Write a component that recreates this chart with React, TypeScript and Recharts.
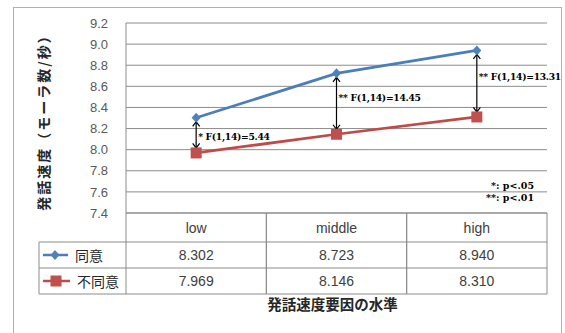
import { LineChart, Line, XAxis, YAxis, CartesianGrid, ReferenceLine } from 'recharts'

const CATEGORIES = ['low', 'middle', 'high']
const AGREE = [8.302, 8.723, 8.94]
const DISAGREE = [7.969, 8.146, 8.31]
const SERIES_NAMES = ['同意', '不同意']
const Y_TICKS = [7.4, 7.6, 7.8, 8.0, 8.2, 8.4, 8.6, 8.8, 9.0, 9.2]
const F_LABELS = ['* F(1,14)=5.44', '** F(1,14)=14.45', '** F(1,14)=13.31']
const NOTES = ['*: p<.05', '**: p<.01']
const Y_TITLE = '発話速度（モーラ数/秒）'
const X_TITLE = '発話速度要因の水準'

const BLUE = '#4A7EBB'
const RED = '#BE4B48'
const GRID = '#8c8c8c'
const SANS = '"Liberation Sans", Arial, sans-serif'
const JP = '"Noto Sans CJK JP", sans-serif'
const SERIF = '"DejaVu Serif", serif'

// nudges for the F-test labels next to each arrow
const LABEL_SHIFT = [2, -6, -7]

const data = CATEGORIES.map((cat, i) => ({ cat, agree: AGREE[i], disagree: DISAGREE[i] }))

const diamond = (p: any) => (
  <path
    key={`d${p.index}`}
    d={`M${p.cx},${p.cy - 5} L${p.cx + 4.5},${p.cy} L${p.cx},${p.cy + 5} L${p.cx - 4.5},${p.cy} Z`}
    fill="#4F81BD"
  />
)

const square = (p: any) => (
  <rect key={`s${p.index}`} x={p.cx - 5.5} y={p.cy - 5.5} width={11} height={11} fill="#C0504D" />
)

// table under the plot, one column per category tick
function TableTick(props: any) {
  const { x, y, index, visibleTicksCount } = props
  const n = visibleTicksCount || CATEGORIES.length
  const colW = (props.width || 421) / n
  const l = x - colW / 2
  const r = x + colW / 2
  const r1 = y + 29
  const r2 = y + 55
  const r3 = y + 81
  const legL = l - 87
  const txt = { fontFamily: SANS, fontSize: 14, fill: '#404040', textAnchor: 'middle' as const }
  return (
    <g>
      <line x1={l} y1={y} x2={l} y2={r3} stroke={GRID} />
      <line x1={r} y1={y} x2={r} y2={r3} stroke={GRID} />
      <line x1={l} y1={r1} x2={r} y2={r1} stroke={GRID} />
      <line x1={l} y1={r2} x2={r} y2={r2} stroke={GRID} />
      <line x1={l} y1={r3} x2={r} y2={r3} stroke={GRID} />
      <text x={x} y={y + 20} {...txt}>{CATEGORIES[index]}</text>
      <text x={x} y={r1 + 18} {...txt}>{AGREE[index].toFixed(3)}</text>
      <text x={x} y={r2 + 18} {...txt}>{DISAGREE[index].toFixed(3)}</text>
      {index === 0 && (
        <g>
          <line x1={legL} y1={r1} x2={l} y2={r1} stroke={GRID} />
          <line x1={legL} y1={r2} x2={l} y2={r2} stroke={GRID} />
          <line x1={legL} y1={r3} x2={l} y2={r3} stroke={GRID} />
          <line x1={legL} y1={r1} x2={legL} y2={r3} stroke={GRID} />
          <line x1={legL + 4} y1={r1 + 13} x2={legL + 29} y2={r1 + 13} stroke={BLUE} strokeWidth={2.5} />
          {diamond({ cx: legL + 16, cy: r1 + 13, index: 'leg' })}
          <text x={legL + 36} y={r1 + 19} fontFamily={JP} fontSize={14} fill="#262626">{SERIES_NAMES[0]}</text>
          <line x1={legL + 4} y1={r2 + 13} x2={legL + 31} y2={r2 + 13} stroke={RED} strokeWidth={2.5} />
          {square({ cx: legL + 17, cy: r2 + 13, index: 'leg' })}
          <text x={legL + 38} y={r2 + 19} fontFamily={JP} fontSize={14} fill="#262626">{SERIES_NAMES[1]}</text>
        </g>
      )}
    </g>
  )
}

function YTitle(props: any) {
  const vb = props.viewBox
  const cx = vb.x + 30
  const cy = vb.y + vb.height / 2 + 1
  return (
    <text
      x={cx}
      y={cy}
      transform={`rotate(-90 ${cx} ${cy})`}
      textAnchor="middle"
      dominantBaseline="central"
      fontFamily={JP}
      fontWeight={700}
      fontSize={14}
      letterSpacing={2}
      fill="#262626"
    >
      {Y_TITLE}
    </text>
  )
}

function XTitle(props: any) {
  const vb = props.viewBox
  return (
    <text
      x={vb.x + vb.width / 2 - 4}
      y={vb.y + 97}
      textAnchor="middle"
      fontFamily={JP}
      fontWeight={700}
      fontSize={14.5}
      fill="#262626"
    >
      {X_TITLE}
    </text>
  )
}

function FArrow(props: any) {
  const { x1, y1, y2, text, i } = props
  const top = Math.min(y1, y2) + 4
  const bot = Math.max(y1, y2) - 5
  const x = x1
  const w = 3.5
  const h = 4.5
  return (
    <g>
      <line x1={x} y1={top} x2={x} y2={bot} stroke="#000" strokeWidth={1.2} />
      <path d={`M${x - w},${top + h} L${x},${top} L${x + w},${top + h}`} fill="none" stroke="#000" strokeWidth={1.2} />
      <path d={`M${x - w},${bot - h} L${x},${bot} L${x + w},${bot - h}`} fill="none" stroke="#000" strokeWidth={1.2} />
      <text
        x={x + 2}
        y={(top + bot) / 2 + LABEL_SHIFT[i]}
        dominantBaseline="central"
        fontFamily={SERIF}
        fontWeight={700}
        fontSize={9.2}
        letterSpacing={-0.3}
        fill="#000"
      >
        {text}
      </text>
    </g>
  )
}

export default function App() {
  return (
    <div style={{ position: 'absolute', left: 0, top: 0, width: 565, height: 333, background: '#fff', overflow: 'hidden' }}>
      <div style={{ position: 'absolute', left: 13, top: 7, width: 549, height: 340, border: '1px solid #b0b0b0', boxSizing: 'border-box' }} />
      <LineChart width={565} height={333} data={data} margin={{ top: 23, right: 18, left: 13, bottom: 30 }}>
        <CartesianGrid vertical={false} stroke={GRID} />
        <XAxis
          dataKey="cat"
          scale="band"
          height={90}
          interval={0}
          tickLine={false}
          tickSize={0}
          tickMargin={0}
          axisLine={{ stroke: GRID }}
          tick={<TableTick />}
          label={<XTitle />}
        />
        <YAxis
          type="number"
          domain={[7.4, 9.2]}
          ticks={Y_TICKS}
          interval={0}
          width={113}
          tickLine={false}
          tickSize={0}
          tickMargin={18}
          axisLine={{ stroke: GRID }}
          tickFormatter={(v) => Number(v).toFixed(1)}
          tick={{ fill: '#595959', fontSize: 13, fontFamily: SANS }}
          label={<YTitle />}
        />
        <Line dataKey="agree" stroke={BLUE} strokeWidth={2.75} dot={diamond} activeDot={false} isAnimationActive={false} />
        <Line dataKey="disagree" stroke={RED} strokeWidth={2.75} dot={square} activeDot={false} isAnimationActive={false} />
        {CATEGORIES.map((c, i) => (
          <ReferenceLine
            key={c}
            ifOverflow="visible"
            segment={[
              { x: c, y: AGREE[i] },
              { x: c, y: DISAGREE[i] },
            ]}
            shape={(p: any) => <FArrow {...p} text={F_LABELS[i]} i={i} />}
          />
        ))}
      </LineChart>
      <svg width={565} height={333} style={{ position: 'absolute', left: 0, top: 0, pointerEvents: 'none' }}>
        {NOTES.map((t, i) => (
          <text key={t} x={534} y={189 + i * 12} textAnchor="end" fontFamily={SERIF} fontWeight={700} fontSize={9.5} fill="#000">
            {t}
          </text>
        ))}
      </svg>
    </div>
  )
}
